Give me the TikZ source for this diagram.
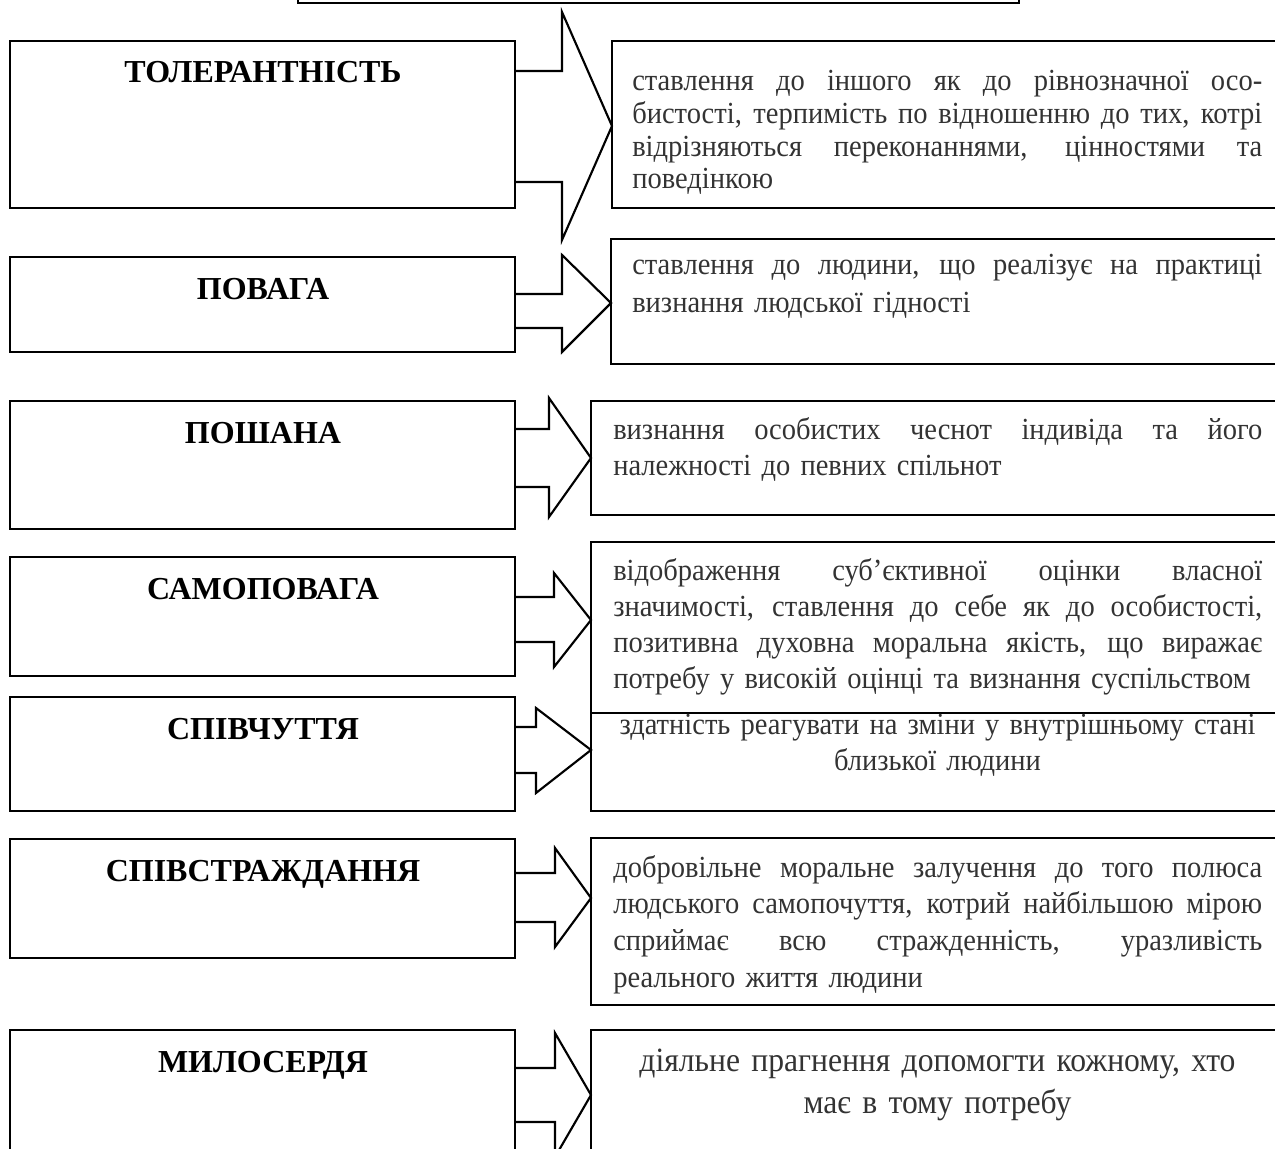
\documentclass[tikz,border=0pt]{standalone}
\usepackage{fontspec}
\setmainfont{Liberation Serif}
\newfontfamily\descfont[FakeStretch=0.93]{Liberation Serif}
\usetikzlibrary{fit}
\tikzset{
  box/.style={draw, line width=2pt, inner sep=0pt, outer sep=0pt},
  blk/.style={draw, line width=1.6pt, line join=miter},
  lbl/.style={font=\fontsize{24}{28}\selectfont\bfseries, anchor=base, inner sep=0pt},
  desc/.style={text=black!80, inner sep=0pt, anchor=base west, align=left},
  wideA/.style={text width=472.5pt},
  wideB/.style={text width=486.75pt},
}
\newcommand{\jl}[1]{{\spaceskip=0.25em plus 1fil\relax\xspaceskip=0.25em plus 1fil\relax
  \makebox[\hsize][s]{#1}}\par}
\begin{document}
\begin{tikzpicture}[x=0.75pt,y=-0.75pt]
\useasboundingbox (0,0) rectangle (1275,1149);
\clip (0,0) rectangle (1275,1149);
% top box (cut by the page)
\node[box, fit={(298,-40)(1019,3)}] (top) {};
% left boxes
\node[box, fit={(10,41)(515,208)}] (L1) {};
\node[box, fit={(10,257)(515,352)}] (L2) {};
\node[box, fit={(10,401)(515,529)}] (L3) {};
\node[box, fit={(10,557)(515,676)}] (L4) {};
\node[box, fit={(10,697)(515,811)}] (L5) {};
\node[box, fit={(10,839)(515,958)}] (L6) {};
\node[box, fit={(10,1030)(515,1200)}] (L7) {};
% right boxes
\node[box, fit={(612,41)(1300,208)}] (R1) {};
\node[box, fit={(611,239)(1300,364)}] (R2) {};
\node[box, fit={(591,401)(1300,515)}] (R3) {};
\node[box, fit={(591,542)(1300,713)}] (R4) {};
\node[box, fit={(591,713)(1300,811)}] (R5) {};
\node[box, fit={(591,838)(1300,1005)}] (R6) {};
\node[box, fit={(591,1030)(1300,1200)}] (R7) {};
% labels
\node[lbl] (t1) at (263,83) {ТОЛЕРАНТНІСТЬ};
\node[lbl] (t2) at (263,299) {ПОВАГА};
\node[lbl] (t3) at (263,443) {ПОШАНА};
\node[lbl] (t4) at (263,599) {САМОПОВАГА};
\node[lbl] (t5) at (263,739) {СПІВЧУТТЯ};
\node[lbl] (t6) at (263,881) {СПІВСТРАЖДАННЯ};
\node[lbl] (t7) at (263,1072) {МИЛОСЕРДЯ};
% block arrows
\draw[blk] (L1.east |- 0,71) -- (562,71) -- (562,12) -- (R1.west |- 0,126) -- (562,240) -- (562,182) -- (L1.east |- 0,182);
\draw[blk] (L2.east |- 0,294) -- (562,294) -- (562,255) -- (R2.west |- 0,303) -- (562,352) -- (562,328) -- (L2.east |- 0,328);
\draw[blk] (L3.east |- 0,429) -- (549,429) -- (549,398) -- (R3.west |- 0,458) -- (549,517) -- (549,487) -- (L3.east |- 0,487);
\draw[blk] (L4.east |- 0,597) -- (554,597) -- (554,573) -- (R4.west |- 0,620) -- (554,667) -- (554,642) -- (L4.east |- 0,642);
\draw[blk] (L5.east |- 0,727) -- (536,727) -- (536,708) -- (R5.west |- 0,750) -- (536,793) -- (536,773) -- (L5.east |- 0,773);
\draw[blk] (L6.east |- 0,873) -- (555,873) -- (555,848) -- (R6.west |- 0,898) -- (555,947) -- (555,922) -- (L6.east |- 0,922);
\draw[blk] (L7.east |- 0,1068) -- (555,1068) -- (555,1033) -- (R7.west |- 0,1095) -- (555,1157) -- (555,1122) -- (L7.east |- 0,1122);
% descriptions
\node[desc, wideA, font=\descfont\fontsize{23}{24.5}\selectfont] (d1) at (632,91)
  {\jl{ставлення до іншого як до рівнозначної осо-}\jl{бистості, терпимість по відношенню до тих, котрі}\jl{відрізняються переконаннями, цінностями та}поведінкою};
\node[desc, wideA, font=\descfont\fontsize{23}{28.5}\selectfont] (d2) at (632,274)
  {\jl{ставлення до людини, що реалізує на практиці}визнання людської гідності};
\node[desc, wideB, font=\descfont\fontsize{23}{27}\selectfont] (d3) at (613,439)
  {\jl{визнання особистих чеснот індивіда та його}належності до певних спільнот};
\node[desc, wideB, font=\descfont\fontsize{23}{27}\selectfont] (d4) at (613,580)
  {\jl{відображення суб’єктивної оцінки власної}\jl{значимості, ставлення до себе як до особистості,}\jl{позитивна духовна моральна якість, що виражає}потребу у високій оцінці та визнання суспільством};
\node[desc, text width=510pt, anchor=base, align=center, font=\descfont\fontsize{23}{27}\selectfont] (d5) at (937.5,734)
  {здатність реагувати на зміни у внутрішньому стані\\близької людини};
\node[desc, wideB, font=\descfont\fontsize{23}{27.5}\selectfont] (d6) at (613,877)
  {\jl{добровільне моральне залучення до того полюса}\jl{людського самопочуття, котрий найбільшою мірою}\jl{сприймає всю стражденність, уразливість}реального життя людини};
\node[desc, text width=510pt, anchor=base, align=center, font=\descfont\fontsize{25.5}{31.5}\selectfont] (d7) at (937.5,1071)
  {діяльне прагнення допомогти кожному, хто\\має в тому потребу};
\end{tikzpicture}
\end{document}
